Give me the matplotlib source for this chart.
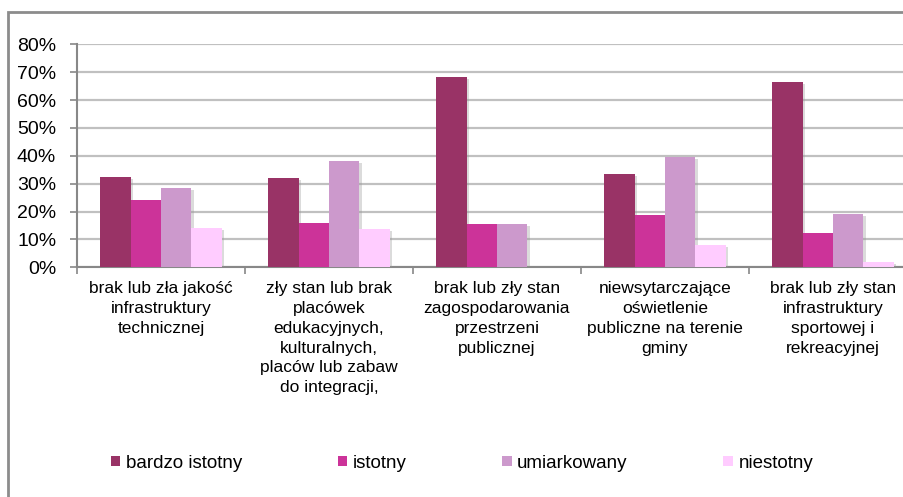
import matplotlib
matplotlib.use("Agg")
import matplotlib.pyplot as plt
import matplotlib.patches as mpatches
import matplotlib.patheffects as pe
import numpy as np

plt.rcParams['font.family'] = ['Liberation Sans', 'DejaVu Sans']

categories = [
    "brak lub zła jakość\ninfrastruktury\ntechnicznej",
    "zły stan lub brak\nplacówek\nedukacyjnych,\nkulturalnych,\nplaców lub zabaw\ndo integracji,",
    "brak lub zły stan\nzagospodarowania\nprzestrzeni\npublicznej",
    "niewsytarczające\noświetlenie\npubliczne na terenie\ngminy",
    "brak lub zły stan\ninfrastruktury\nsportowej i\nrekreacyjnej",
]
series_names = ["bardzo istotny", "istotny", "umiarkowany", "niestotny"]
bardzo_istotny = [32.5, 32.1, 68.3, 33.4, 66.5]
istotny = [24.2, 16.0, 15.5, 18.7, 12.3]
umiarkowany = [28.3, 38.0, 15.5, 39.5, 19.1]
niestotny = [14.1, 13.6, 0.0, 8.1, 1.8]
yticks = [0, 10, 20, 30, 40, 50, 60, 70, 80]
ytick_labels = ["0%", "10%", "20%", "30%", "40%", "50%", "60%", "70%", "80%"]

colors = ["#993366", "#CC3399", "#CC99CC", "#FFCCFF"]
series = [bardzo_istotny, istotny, umiarkowany, niestotny]

W, H = 904, 497
fig = plt.figure(figsize=(W / 100, H / 100), dpi=100)

# outer chart frame
frame = mpatches.Rectangle((8 / W, -0.1), 1.2, (H - 12) / H + 0.1, transform=fig.transFigure,
                           fill=False, edgecolor="#8c8c8c", linewidth=2.0)
fig.patches.append(frame)

ax_left, ax_bottom = 77 / W, (H - 267.3) / H
ax_w, ax_h = 840 / W, (267.3 - 44.3) / H
ax = fig.add_axes([ax_left, ax_bottom, ax_w, ax_h])

x = np.arange(len(categories))
bw = 0.1815
offsets = (np.arange(4) - 1.5) * bw
for i, (vals, c, name) in enumerate(zip(series, colors, series_names)):
    ax.bar(x + offsets[i], vals, width=bw, color=c, label=name, zorder=3,
           path_effects=[pe.SimplePatchShadow(offset=(1.5, -1.5), shadow_rgbFace="#999999", alpha=0.35),
                         pe.Normal()])

ax.set_xlim(-0.5, len(categories) - 0.5)
ax.set_ylim(0, 80)
ax.set_yticks(yticks)
ax.set_yticklabels(ytick_labels, fontsize=14)
ax.yaxis.grid(True, color="#c0c0c0", linewidth=1.6, zorder=0)
ax.set_axisbelow(True)

ax.set_xticks(np.arange(len(categories) + 1) - 0.5)
ax.set_xticklabels([])
ax.set_xticks(x, minor=True)
ax.set_xticklabels(categories, minor=True, fontsize=12.5, linespacing=1.4, va="top")
ax.tick_params(axis="x", which="minor", length=0, pad=10)
ax.tick_params(axis="x", which="major", length=5, width=1.2, color="#888888", direction="out")
ax.tick_params(axis="y", length=5, width=1.2, color="#888888", direction="out", pad=10)

for s in ["top", "right"]:
    ax.spines[s].set_visible(False)
for s in ["left", "bottom"]:
    ax.spines[s].set_color("#888888")
    ax.spines[s].set_linewidth(1.5)

handles = [mpatches.Patch(facecolor=c, edgecolor="none") for c in colors]
fig.legend(handles, series_names, loc="center", bbox_to_anchor=(462 / W, (H - 463) / H),
           ncol=4, frameon=False, fontsize=13.5, handlelength=0.5, handleheight=0.5,
           handletextpad=0.3, columnspacing=5.1)

fig.savefig("out.png", dpi=100)
